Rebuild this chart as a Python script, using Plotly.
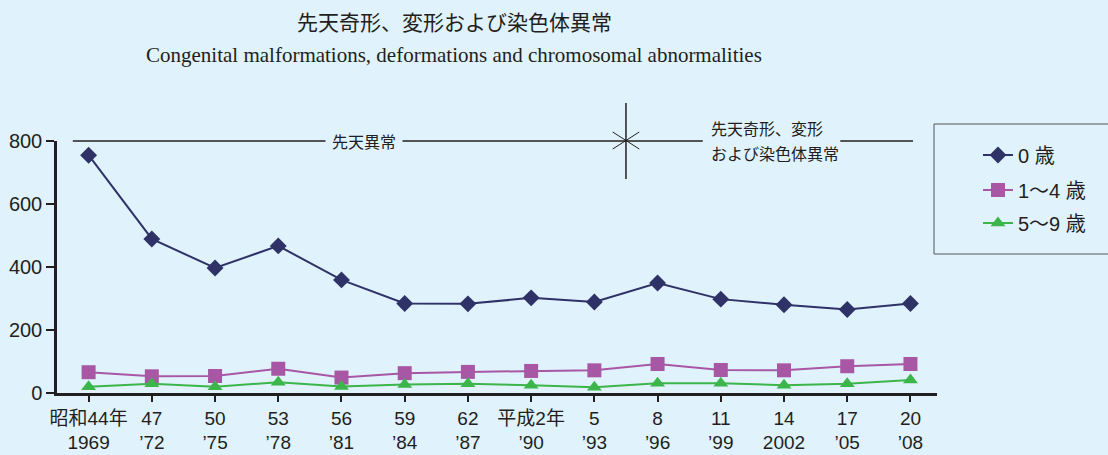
import plotly.graph_objects as go

# ---- data ----
x_idx = list(range(14))
tick_labels = ["昭和44年<br>1969", "47<br>’72", "50<br>’75", "53<br>’78", "56<br>’81",
               "59<br>’84", "62<br>’87", "平成2年<br>’90", "5<br>’93", "8<br>’96",
               "11<br>’99", "14<br>2002", "17<br>’05", "20<br>’08"]
age0 = [755, 489, 397, 467, 359, 284, 283, 302, 289, 349, 298, 280, 265, 284]
age1_4 = [66, 53, 54, 77, 49, 63, 67, 70, 72, 92, 73, 72, 85, 92]
age5_9 = [20, 29, 20, 34, 21, 27, 29, 25, 18, 31, 31, 25, 29, 41]
series_names = ["0 歳", "1～4 歳", "5～9 歳"]

BG = "#e0f2fc"
TXT = "#231f20"
FONT = "Liberation Sans, Arial, Noto Sans CJK JP, sans-serif"
JFONT = "Noto Sans CJK JP, sans-serif"

W, H = 1108, 455
L, R, T, B = 57, 171, 141, 62
PW, PH = W - L - R, H - T - B

def px_x(p):
    return (p - L) / PW

def px_y(p):
    return 1 + (T - p) / PH

fig = go.Figure()
fig.add_trace(go.Scatter(x=x_idx, y=age0, name=series_names[0], mode="lines+markers",
                         line=dict(color="#2e3266", width=2),
                         marker=dict(symbol="diamond", size=13, color="#2e3266"),
                         cliponaxis=False, legend="legend", showlegend=True))
fig.add_trace(go.Scatter(x=x_idx, y=age1_4, name=series_names[1], mode="lines+markers",
                         line=dict(color="#a857a5", width=2),
                         marker=dict(symbol="square", size=14, color="#a857a5"),
                         cliponaxis=False, legend="legend2", showlegend=True))
fig.add_trace(go.Scatter(x=x_idx, y=age5_9, name=series_names[2], mode="lines+markers",
                         line=dict(color="#3cb54a", width=2),
                         marker=dict(symbol="triangle-up", size=13, color="#3cb54a"),
                         cliponaxis=False, legend="legend3", showlegend=True))

leg_common = dict(bgcolor="rgba(0,0,0,0)", borderwidth=0, font=dict(family=FONT, size=20, color=TXT),
                  xanchor="left", yanchor="middle", x=px_x(978), visible=True)
fig.update_layout(
    width=W, height=H,
    margin=dict(l=L, r=R, t=T, b=B, autoexpand=False),
    showlegend=True,
    paper_bgcolor=BG, plot_bgcolor=BG,
    font=dict(family=FONT, size=20, color=TXT),
    legend=dict(leg_common, y=px_y(155)),
    legend2=dict(leg_common, y=px_y(190)),
    legend3=dict(leg_common, y=px_y(223)),
    xaxis=dict(range=[-0.5, 13.42], tickmode="array", tickvals=x_idx, ticktext=tick_labels,
               showgrid=False, zeroline=False, showline=True, linecolor=TXT, linewidth=2.5,
               ticks="outside", ticklen=6, tickwidth=2, tickcolor=TXT, automargin=False,
               tickfont=dict(family=FONT, size=19, color=TXT)),
    yaxis=dict(range=[0, 800], tickvals=[0, 200, 400, 600, 800],
               showgrid=False, zeroline=False, showline=True, linecolor=TXT, linewidth=2.5,
               ticks="outside", ticklen=8, tickwidth=2, tickcolor=TXT, automargin=False,
               tickfont=dict(family=FONT, size=20, color=TXT)),
)

# legend frame
fig.add_shape(type="rect", xref="paper", yref="paper", x0=px_x(934), x1=px_x(1112),
              y0=px_y(254), y1=px_y(124), line=dict(color="#555555", width=1))

# bracket line at top of plot
fig.add_shape(type="line", xref="x", yref="paper", x0=-0.25, x1=13.04, y0=1, y1=1,
              line=dict(color=TXT, width=1.5))
# cross marker at classification change
fig.add_shape(type="line", xref="x", yref="paper", x0=8.5, x1=8.5, y0=px_y(179), y1=px_y(103),
              line=dict(color=TXT, width=1.5))
fig.add_shape(type="line", xref="x", yref="paper", x0=8.29, x1=8.71, y0=px_y(149), y1=px_y(132),
              line=dict(color=TXT, width=1))
fig.add_shape(type="line", xref="x", yref="paper", x0=8.29, x1=8.71, y0=px_y(132), y1=px_y(149),
              line=dict(color=TXT, width=1))

fig.add_annotation(text="先天異常", xref="x", yref="paper", x=4.35, y=1, showarrow=False,
                   xanchor="center", yanchor="middle", bgcolor=BG, borderpad=6,
                   font=dict(family=JFONT, size=16, color=TXT))
# mask for the right-hand label, then its two lines
fig.add_shape(type="rect", xref="x", yref="paper", x0=9.715, x1=11.89, y0=px_y(146), y1=px_y(136),
              line=dict(width=0), fillcolor=BG)
fig.add_annotation(text="先天奇形、変形", xref="x", yref="paper", x=9.81, y=px_y(128),
                   showarrow=False, xanchor="left", yanchor="middle",
                   font=dict(family=JFONT, size=16, color=TXT))
fig.add_annotation(text="および染色体異常", xref="x", yref="paper", x=9.81, y=px_y(153),
                   showarrow=False, xanchor="left", yanchor="middle",
                   font=dict(family=JFONT, size=16, color=TXT))

# titles
fig.add_annotation(text="先天奇形、変形および染色体異常", xref="paper", yref="paper",
                   x=px_x(454), y=px_y(21), showarrow=False, xanchor="center", yanchor="middle",
                   font=dict(family=JFONT, size=21, color=TXT))
fig.add_annotation(text="Congenital malformations, deformations and chromosomal abnormalities",
                   xref="paper", yref="paper", x=px_x(454), y=px_y(55), showarrow=False,
                   xanchor="center", yanchor="middle",
                   font=dict(family="Liberation Serif, Times New Roman, serif", size=21, color=TXT))

fig.write_html("out.html", config={"displayModeBar": False},
               post_script="document.body.style.margin='0';document.body.style.background='%s';" % BG)
